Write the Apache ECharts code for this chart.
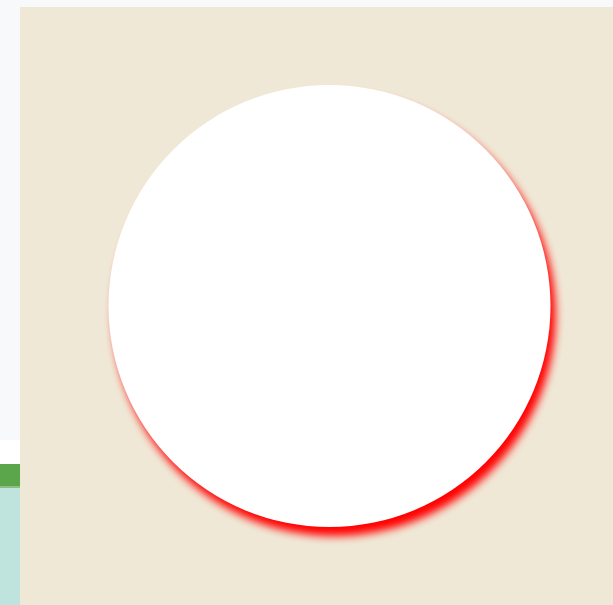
<!DOCTYPE html>
<html><head><meta charset="utf-8">
<script src="https://cdn.jsdelivr.net/npm/echarts@6/dist/echarts.min.js"></script>
<style>
html,body{margin:0;padding:0;width:613px;height:605px;overflow:hidden;background:#f7f9fb;}
#bg1{position:absolute;left:0;top:440px;width:20px;height:24px;background:#ffffff;}
#bg2{position:absolute;left:0;top:464px;width:20px;height:24px;background:#5ba64a;border-bottom:2px solid #8cbf80;box-sizing:border-box;}
#bg3{position:absolute;left:0;top:488px;width:20px;height:117px;background:#bfe4dd;}
#chart{position:absolute;left:20px;top:7px;width:593px;height:598px;}
</style></head>
<body>
<div id="bg1"></div><div id="bg2"></div><div id="bg3"></div>
<div id="chart"></div>
<script>
var categories = ['A'];
var values = [100];
var chart = echarts.init(document.getElementById('chart'));
chart.setOption({
  backgroundColor: '#f0e8d6',
  animation: false,
  series: [{
    type: 'pie',
    center: [309.5, 299],
    radius: 221,
    silent: true,
    label: { show: false },
    labelLine: { show: false },
    itemStyle: {
      color: '#ffffff',
      shadowColor: 'rgba(255,0,0,1)',
      shadowBlur: 9,
      shadowOffsetX: 5,
      shadowOffsetY: 9
    },
    data: categories.map(function (c, i) { return { name: c, value: values[i] }; })
  }]
});
</script>
</body></html>
